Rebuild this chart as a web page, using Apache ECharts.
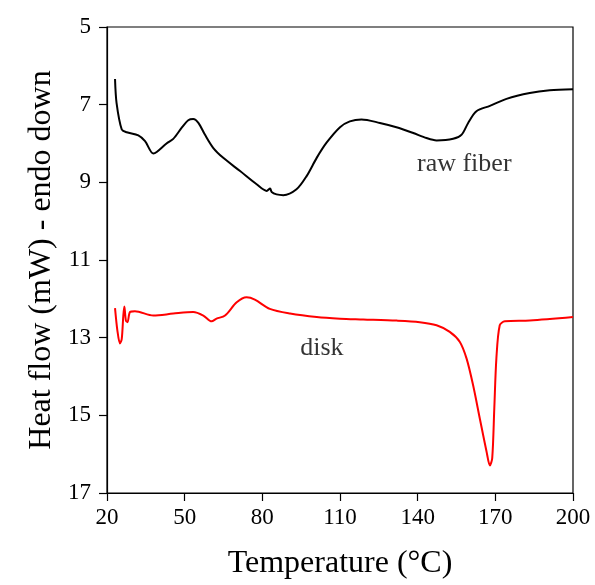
<!DOCTYPE html>
<html><head><meta charset="utf-8">
<script src="https://cdn.jsdelivr.net/npm/echarts@6/dist/echarts.min.js"></script>
<style>html,body{margin:0;padding:0;background:#fff}#c{width:595px;height:585px}</style>
</head><body><div id="c"></div>
<script>
const rawFiberT = [23.1,23.7,25.7,27.6,32.1,34.7,37.9,39.2,43.0,45.6,48.8,51.4,53.3,55.3,57.8,61.0,64.9,71.4,77.8,81.7,83.0,83.6,85.5,88.1,93.2,97.1,101.0,104.8,110.0,113.8,118.3,125.4,131.8,138.3,143.4,147.3,153.7,157.0,159.5,162.7,167.9,174.3,183.3,191.0,200.0];
const rawFiberV = [6.34,6.96,7.64,7.71,7.79,7.94,8.26,8.22,8.00,7.88,7.60,7.40,7.37,7.47,7.77,8.11,8.37,8.71,9.05,9.22,9.16,9.25,9.31,9.33,9.18,8.84,8.37,7.98,7.58,7.43,7.38,7.47,7.58,7.73,7.86,7.92,7.88,7.77,7.47,7.17,7.03,6.85,6.70,6.63,6.60];
const diskT = [23.1,24.0,25.0,25.7,26.3,26.7,27.3,27.9,28.9,30.8,37.9,45.6,53.3,57.2,60.4,62.3,65.6,70.1,73.9,77.1,82.9,90.7,101.0,110.0,119.0,131.9,140.8,147.3,152.4,156.3,158.9,161.4,164.0,166.6,167.9,168.8,169.6,170.4,171.7,173.7,183.3,200.0];
const diskV = [12.24,12.81,13.15,13.03,12.43,12.20,12.56,12.60,12.34,12.32,12.43,12.38,12.34,12.43,12.58,12.51,12.43,12.09,11.96,12.02,12.26,12.38,12.47,12.51,12.53,12.56,12.60,12.68,12.85,13.11,13.54,14.22,15.08,15.93,16.29,16.10,14.82,13.54,12.68,12.58,12.56,12.47];
const xTicks = [20,50,80,110,140,170,200];
const yTicks = [5,7,9,11,13,15,17];
const labels = [{name:'raw fiber', t:158, v:8.54},{name:'disk', t:103, v:13.28}];

const font = 'Liberation Serif';
const chart = echarts.init(document.getElementById('c'));
chart.setOption({
  animation:false,
  backgroundColor:'#fff',
  grid:{left:107,right:22,top:27,bottom:89,show:true,borderColor:'#000',borderWidth:1.2,containLabel:false},
  xAxis:{type:'value',min:xTicks[0],max:xTicks[xTicks.length-1],interval:30,
    name:'Temperature (°C)',nameLocation:'middle',nameGap:55,
    nameTextStyle:{fontFamily:font,fontSize:32,color:'#000'},
    axisLine:{lineStyle:{color:'#000',width:1.2}},
    axisTick:{show:true,inside:false,length:8,lineStyle:{color:'#000',width:1.2}},
    axisLabel:{fontFamily:font,fontSize:23,color:'#000',margin:13},
    splitLine:{show:false}},
  yAxis:{type:'value',inverse:true,min:yTicks[0],max:yTicks[yTicks.length-1],interval:2,
    name:'Heat flow (mW) - endo down',nameLocation:'middle',nameGap:49,
    nameTextStyle:{fontFamily:font,fontSize:32,color:'#000'},
    axisLine:{lineStyle:{color:'#000',width:1.2}},
    axisTick:{show:true,inside:false,length:8,lineStyle:{color:'#000',width:1.2}},
    axisLabel:{fontFamily:font,fontSize:23,color:'#000',margin:16},
    splitLine:{show:false}},
  series:[
    {type:'line',data:rawFiberT.map((t,i)=>[t,rawFiberV[i]]),smooth:0.3,showSymbol:false,
      lineStyle:{color:'#000',width:2},itemStyle:{color:'#000'}},
    {type:'line',data:diskT.map((t,i)=>[t,diskV[i]]),smooth:0.3,showSymbol:false,
      lineStyle:{color:'#ff0000',width:2},itemStyle:{color:'#ff0000'}},
    {type:'scatter',symbolSize:0,silent:true,
      data:labels.map(l=>({value:[l.t,l.v],name:l.name})),
      label:{show:true,position:'inside',formatter:p=>p.name,fontFamily:font,fontSize:26,color:'#000'}}
  ]
});
</script></body></html>
